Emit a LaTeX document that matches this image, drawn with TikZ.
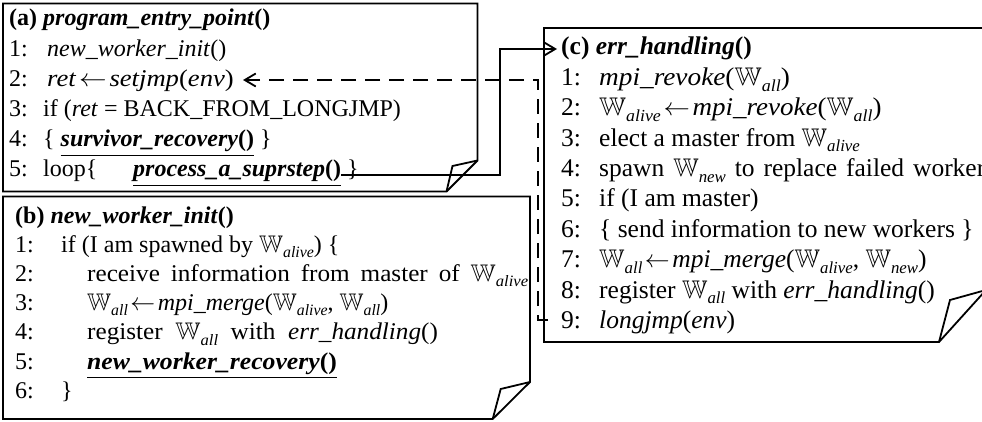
\documentclass[tikz,border=0pt]{standalone}
\usepackage{amssymb}
\usepackage{graphicx}
\usepackage{fontspec}
\setmainfont{Liberation Serif}
\usetikzlibrary{arrows.meta}
\newcommand{\WW}[1]{$\mathbb{W}$\raisebox{-0.22em}{\scalebox{0.66}{\textit{#1}}}}
\newcommand{\fnb}[1]{\textbf{\textit{#1}}}
\newcommand{\larr}{\hspace{2.5pt}$\leftarrow$\hspace{2.5pt}}
\begin{document}
\begin{tikzpicture}[x=1pt,y=-1pt,
  boxline/.style={line width=1.8pt, line join=miter},
  conn/.style={line width=1.8pt},
  dconn/.style={line width=1.8pt, dash pattern=on 15pt off 9pt},
  tip/.style={-{Straight Barb[length=11pt,width=13pt,line width=1.8pt]}},
  ta/.style={anchor=base west, inner sep=0pt, font=\fontsize{24}{28}\selectfont},
  tb/.style={anchor=base west, inner sep=0pt, font=\fontsize{24}{29}\selectfont},
  tc/.style={anchor=base west, inner sep=0pt, font=\fontsize{25.5}{30}\selectfont}]
\useasboundingbox (0,0) rectangle (982,422);
\clip (0,0) rectangle (982,422);
% boxes
\draw[boxline] (3,3.5) -- (477.5,3.5) -- (477.5,160.5) -- (446.5,191.5) -- (3,191.5) -- cycle;
\draw[boxline] (446.5,191.5) -- (452.5,166) -- (477.5,160.5);
\draw[boxline] (3,196.5) -- (530,196.5) -- (530,382) -- (492.7,419) -- (3,419) -- cycle;
\draw[boxline] (492.7,419) -- (500.7,389) -- (530,382);
\draw[boxline] (544,28) -- (986,28) -- (986,290) -- (939,342) -- (544,342) -- cycle;
\draw[boxline] (939,342) -- (950,300) -- (986,290);
% box (a)
\node[ta] (at) at (9,25.5) {\textbf{(a)} \fnb{program\_entry\_point}\textbf{()}};
\node[ta] (a1n) at (9,57) {1:};
\node[ta] (a1) at (47,57) {\textit{new\_worker\_init}()};
\node[ta] (a2n) at (9,87) {2:};
\node[ta] (a2) at (47,87) {\scalebox{1.11}[1]{\textit{ret}\larr\textit{setjmp}(\textit{env})}};
\node[ta] (a3n) at (9,117) {3:};
\node[ta] (a3) at (43,117) {if (\textit{ret} = BACK\_FROM\_LONGJMP)};
\node[ta] (a4n) at (9,147) {4:};
\node[ta] (a4) at (43,147) {\{ \underline{\fnb{survivor\_recovery}\textbf{()}} \}};
\node[ta] (a5n) at (9,177) {5:};
\node[ta] (a5) at (43,177) {loop\{};
\node[ta] (a5c) at (133,177) {\underline{\fnb{process\_a\_suprstep}\textbf{()}}};
\node[ta] (a5e) at (347,177) {\}};
% box (b)
\node[tb] (bt) at (15,223) {\textbf{(b)} \fnb{new\_worker\_init}\textbf{()}};
\node[tb] (b1n) at (15,252.2) {1:};
\node[tb] (b1) at (61,252.2) {if (I am spawned by \WW{alive}) \{};
\node[tb] (b2n) at (15,281.4) {2:};
\node[tb] (b2) at (87,281.4) {\scalebox{1.05}[1]{\makebox[420pt][s]{receive information from master of \WW{alive}}}};
\node[tb] (b3n) at (15,310.6) {3:};
\node[tb] (b3) at (87,310.6) {\WW{all}\larr\textit{mpi\_merge}(\WW{alive}, \WW{all})};
\node[tb] (b4n) at (15,339.8) {4:};
\node[tb] (b4) at (87,339.8) {\scalebox{1.05}[1]{\makebox[334pt][s]{register \WW{all} with \textit{err\_handling}()}}};
\node[tb] (b5n) at (15,369) {5:};
\node[tb] (b5) at (87,369) {\scalebox{1.07}[1]{\underline{\fnb{new\_worker\_recovery}\textbf{()}}}};
\node[tb] (b6n) at (15,398.2) {6:};
\node[tb] (b6) at (61,398.2) {\}};
% box (c)
\node[tc] (ct) at (561,55) {\textbf{(c)} \fnb{err\_handling}\textbf{()}};
\node[tc] (c1n) at (561,85.4) {1:};
\node[tc] (c1) at (599,85.4) {\scalebox{1.07}[1]{\textit{mpi\_revoke}(\WW{all})}};
\node[tc] (c2n) at (561,115.8) {2:};
\node[tc] (c2) at (599,115.8) {\scalebox{1.06}[1]{\WW{alive}\larr\textit{mpi\_revoke}(\WW{all})}};
\node[tc] (c3n) at (561,146.2) {3:};
\node[tc] (c3) at (599,146.2) {elect a master from \WW{alive}};
\node[tc] (c4n) at (561,176.6) {4:};
\node[tc] (c4) at (599,176.6) {\makebox[396pt][s]{spawn \WW{new} to replace failed workers}};
\node[tc] (c5n) at (561,207) {5:};
\node[tc] (c5) at (599,207) {if (I am master)};
\node[tc] (c6n) at (561,237.4) {6:};
\node[tc] (c6) at (599,237.4) {\{ send information to new workers \}};
\node[tc] (c7n) at (561,267.8) {7:};
\node[tc] (c7) at (599,267.8) {\WW{all}\larr\textit{mpi\_merge}(\WW{alive}, \WW{new})};
\node[tc] (c8n) at (561,298.2) {8:};
\node[tc] (c8) at (599,298.2) {register \WW{all} with \textit{err\_handling}()};
\node[tc] (c9n) at (561,328.6) {9:};
\node[tc] (c9) at (599,328.6) {\textit{longjmp}(\textit{env})};
% connectors
\coordinate (a5out) at ([yshift=2pt]a5c.base east);
\coordinate (jx) at (500,49);
\coordinate (ctin) at (557,49);
\draw[conn,tip] (a5out) -| (jx) -- (ctin);
\coordinate (c9in) at (548,320);
\coordinate (djx) at (538,80);
\coordinate (a2in) at (243,80);
\draw[dconn,tip] (c9in) -| (djx) -- (a2in);
\end{tikzpicture}
\end{document}
